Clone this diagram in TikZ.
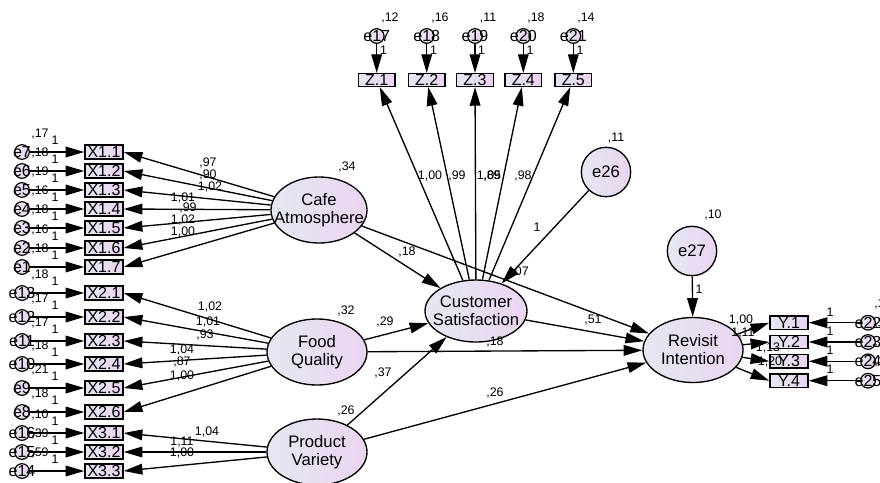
\documentclass[tikz,border=0pt]{standalone}
\usepackage{fontspec}
\setmainfont{Liberation Sans}
\usetikzlibrary{shapes.geometric,arrows.meta}
\definecolor{shadeL}{HTML}{E4E8F1}
\definecolor{shadeR}{HTML}{EBD4F1}
\tikzset{
  latent/.style={ellipse,draw,line width=1pt,left color=shadeL,right color=shadeR,
    minimum width=75pt,minimum height=49.5pt,inner sep=0pt},
  lattxt/.style={align=center,inner sep=0pt,font=\fontsize{12.5}{13.5}\selectfont},
  item/.style={rectangle,draw,line width=1.1pt,left color=shadeL,right color=shadeR,
    minimum width=28.5pt,minimum height=10.5pt,inner sep=0pt,font=\fontsize{12}{12}\selectfont},
  err/.style={circle,draw,line width=.9pt,left color=shadeL,right color=shadeR,
    minimum size=11pt,inner sep=0pt},
  errtxt/.style={inner sep=0pt,font=\fontsize{12}{12}\selectfont},
  dist/.style={circle,draw,line width=1pt,left color=shadeL,right color=shadeR,
    minimum size=37pt,inner sep=0pt,font=\fontsize{12.5}{13}\selectfont},
  coef/.style={inner sep=0pt,font=\fontsize{9.3}{10}\selectfont},
  arr/.style={-{Triangle[length=14pt,width=8pt]},line width=1pt}
}
\begin{document}
\begin{tikzpicture}[x=0.75pt,y=-0.75pt]
\useasboundingbox (0,0) rectangle (880,482);
% latent variables
\draw
  (319,210) node[latent,minimum width=72pt,label={[lattxt]center:{Cafe\\Atmosphere}}] (cafe) {}
  (317,352) node[latent,label={[lattxt]center:{Food\\Quality}}] (food) {}
  (317,452) node[latent,label={[lattxt]center:{Product\\Variety}}] (pv) {}
  (476,311) node[latent,minimum width=76.5pt,minimum height=46.5pt,label={[lattxt]center:{Customer\\Satisfaction}}] (cs) {}
  (693,350) node[latent,minimum height=48.75pt,label={[lattxt]center:{Revisit\\Intention}}] (ri) {}
  (606,172) node[dist] (e26) {e26}
  (692,251) node[dist] (e27) {e27};
% observed items
\draw
  (104,152) node[item] (x11) {X1.1}
  (104,171) node[item] (x12) {X1.2}
  (104,190) node[item] (x13) {X1.3}
  (104,209) node[item] (x14) {X1.4}
  (104,228) node[item] (x15) {X1.5}
  (104,248) node[item] (x16) {X1.6}
  (104,267) node[item] (x17) {X1.7}
  (104,293) node[item] (x21) {X2.1}
  (104,317) node[item] (x22) {X2.2}
  (104,341) node[item] (x23) {X2.3}
  (104,364) node[item] (x24) {X2.4}
  (104,388) node[item] (x25) {X2.5}
  (104,412) node[item] (x26) {X2.6}
  (104,433) node[item] (x31) {X3.1}
  (104,452) node[item] (x32) {X3.2}
  (104,471) node[item] (x33) {X3.3}
  (376.7,80) node[item,minimum width=27.5pt,minimum height=9.5pt] (z1) {Z.1}
  (426.7,80) node[item,minimum width=27.5pt,minimum height=9.5pt] (z2) {Z.2}
  (475,80) node[item,minimum width=27.5pt,minimum height=9.5pt] (z3) {Z.3}
  (523.3,80) node[item,minimum width=27.5pt,minimum height=9.5pt] (z4) {Z.4}
  (573.3,80) node[item,minimum width=27.5pt,minimum height=9.5pt] (z5) {Z.5}
  (789,322.7) node[item,minimum height=10pt] (y1) {Y.1}
  (789,342) node[item,minimum height=10pt] (y2) {Y.2}
  (789,361.3) node[item,minimum height=10pt] (y3) {Y.3}
  (789,380.7) node[item,minimum height=10pt] (y4) {Y.4};
% error terms
\draw
  (22,152) node[err,label={[errtxt]center:e7}] (e7) {}
  (22,171) node[err,label={[errtxt]center:e6}] (e6) {}
  (22,190) node[err,label={[errtxt]center:e5}] (e5) {}
  (22,209) node[err,label={[errtxt]center:e4}] (e4) {}
  (22,228) node[err,label={[errtxt]center:e3}] (e3) {}
  (22,248) node[err,label={[errtxt]center:e2}] (e2) {}
  (22,267) node[err,label={[errtxt]center:e1}] (e1) {}
  (22,293) node[err,label={[errtxt]center:e13}] (e13) {}
  (22,317) node[err,label={[errtxt]center:e12}] (e12) {}
  (22,341) node[err,label={[errtxt]center:e11}] (e11) {}
  (22,364) node[err,label={[errtxt]center:e10}] (e10) {}
  (22,388) node[err,label={[errtxt]center:e9}] (e9) {}
  (22,412) node[err,label={[errtxt]center:e8}] (e8) {}
  (22,433) node[err,label={[errtxt]center:e16}] (e16) {}
  (22,452) node[err,label={[errtxt]center:e15}] (e15) {}
  (22,471) node[err,label={[errtxt]center:e14}] (e14) {}
  (376.7,36) node[err,label={[errtxt]center:e17}] (e17) {}
  (426.7,36) node[err,label={[errtxt]center:e18}] (e18) {}
  (475,36) node[err,label={[errtxt]center:e19}] (e19) {}
  (523.3,36) node[err,label={[errtxt]center:e20}] (e20) {}
  (573.3,36) node[err,label={[errtxt]center:e21}] (e21) {}
  (868,322.7) node[err,label={[errtxt]center:e22}] (e22) {}
  (868,342) node[err,label={[errtxt]center:e23}] (e23) {}
  (868,361.3) node[err,label={[errtxt]center:e24}] (e24) {}
  (868,380.7) node[err,label={[errtxt]center:e25}] (e25) {};
\begin{scope}[arr]
  \draw (e7) to (x11);
  \draw (e6) to (x12);
  \draw (e5) to (x13);
  \draw (e4) to (x14);
  \draw (e3) to (x15);
  \draw (e2) to (x16);
  \draw (e1) to (x17);
  \draw (e13) to (x21);
  \draw (e12) to (x22);
  \draw (e11) to (x23);
  \draw (e10) to (x24);
  \draw (e9) to (x25);
  \draw (e8) to (x26);
  \draw (e16) to (x31);
  \draw (e15) to (x32);
  \draw (e14) to (x33);
  \draw (e17) to (z1);
  \draw (e18) to (z2);
  \draw (e19) to (z3);
  \draw (e20) to (z4);
  \draw (e21) to (z5);
  \draw (e22) to (y1);
  \draw (e23) to (y2);
  \draw (e24) to (y3);
  \draw (e25) to (y4);
  \draw (cafe) to (x11.east);
  \draw (cafe) to (x12.east);
  \draw (cafe) to (x13.east);
  \draw (cafe) to (x14.east);
  \draw (cafe) to (x15.east);
  \draw (cafe) to (x16.east);
  \draw (cafe) to (x17.east);
  \draw (food) to (x21.east);
  \draw (food) to (x22.east);
  \draw (food) to (x23.east);
  \draw (food) to (x24.east);
  \draw (food) to (x25.east);
  \draw (food) to (x26.east);
  \draw (pv) to (x31.east);
  \draw (pv) to (x32.east);
  \draw (pv) to (x33.east);
  \draw (cs) to (z1);
  \draw (cs) to (z2);
  \draw (cs) to (z3);
  \draw (cs) to (z4);
  \draw (cs) to (z5);
  \draw (ri) to (y1.west);
  \draw (ri) to (y2.west);
  \draw (ri) to (y3.west);
  \draw (ri) to (y4.west);
  \draw (cafe) to (cs);
  \draw (food) to (cs);
  \draw (pv) to (cs);
  \draw (e26) to (cs);
  \draw (cafe) to (ri);
  \draw (cs) to (ri);
  \draw (food) to (ri);
  \draw (pv) to (ri);
  \draw (e27) to (ri);
\end{scope}
% variances
\draw[every node/.style=coef]
  (40,134) node (v7) {,17}   (55,140) node (w7) {1}
  (40,153) node (v6) {,18}   (55,159) node (w6) {1}
  (40,172) node (v5) {,19}   (55,178) node (w5) {1}
  (40,191) node (v4) {,16}   (55,197) node (w4) {1}
  (40,210) node (v3) {,18}   (55,216) node (w3) {1}
  (40,230) node (v2) {,16}   (55,236) node (w2) {1}
  (40,249) node (v1) {,18}   (55,255) node (w1) {1}
  (40,275) node (v13) {,18}  (55,281) node (w13) {1}
  (40,299) node (v12) {,17}  (55,305) node (w12) {1}
  (40,323) node (v11) {,17}  (55,329) node (w11) {1}
  (40,346) node (v10) {,18}  (55,352) node (w10) {1}
  (40,370) node (v9) {,21}   (55,376) node (w9) {1}
  (40,394) node (v8) {,18}   (55,400) node (w8) {1}
  (40,415) node (v16) {,10}  (55,421) node (w16) {1}
  (40,434) node (v15) {,39}  (55,440) node (w15) {1}
  (40,453) node (v14) {,59}  (55,459) node (w14) {1}
  (390,18) node (v17) {,12}  (383.5,50) node (w17) {1}
  (440,18) node (v18) {,16}  (433.5,50) node (w18) {1}
  (488,18) node (v19) {,11}  (481.5,50) node (w19) {1}
  (536,18) node (v20) {,18}  (530,50) node (w20) {1}
  (586,18) node (v21) {,14}  (580,50) node (w21) {1}
  (874,304) node[anchor=west] (v22) {,13}  (830,312) node (w22) {1}
  (874,323) node[anchor=west] (v23) {,12}  (830,331) node (w23) {1}
  (874,342) node[anchor=west] (v24) {,15}  (830,350) node (w24) {1}
  (874,362) node[anchor=west] (v25) {,16}  (830,369) node (w25) {1}
  (347,167) node (vcafe) {,34}
  (346,311) node (vfood) {,32}
  (346,411) node (vpv) {,26}
  (616,138) node (v26) {,11}
  (713,215) node (v27) {,10};
% path coefficients
\draw[every node/.style=coef]
  (208,163) node (lx11) {,97}
  (208,175) node (lx12) {,90}
  (210,187) node (lx13) {1,02}
  (183,198) node (lx14) {1,01}
  (188,208) node (lx15) {,99}
  (183,220) node (lx16) {1,02}
  (183,232) node (lx17) {1,00}
  (210,307) node (lx21) {1,02}
  (208,322) node (lx22) {1,01}
  (205,335) node (lx23) {,93}
  (182,350) node (lx24) {1,04}
  (182,362) node (lx25) {,87}
  (182,376) node (lx26) {1,00}
  (207,432) node (lx31) {1,04}
  (182,442) node (lx32) {1,11}
  (182,453) node (lx33) {1,00}
  (430,176) node (lz1) {1,00}
  (457,176) node (lz2) {,99}
  (489,176) node (lz3) {1,05}
  (492,176) node (lz4) {,89}
  (523,176) node (lz5) {,98}
  (741,320) node (ly1) {1,00}
  (743,333) node (ly2) {1,11}
  (768,348) node (ly3) {1,13}
  (770,362) node (ly4) {1,20}
  (407,252) node (lcafecs) {,18}
  (518,272) node (lcaferi) {-,07}
  (593,320) node (lcsri) {,51}
  (385,322) node (lfoodcs) {,29}
  (495,342) node (lfoodri) {,18}
  (383,373) node (lpvcs) {,37}
  (495,393) node (lpvri) {,26}
  (537,227) node (le26) {1}
  (699,289) node (le27) {1};
\end{tikzpicture}
\end{document}
